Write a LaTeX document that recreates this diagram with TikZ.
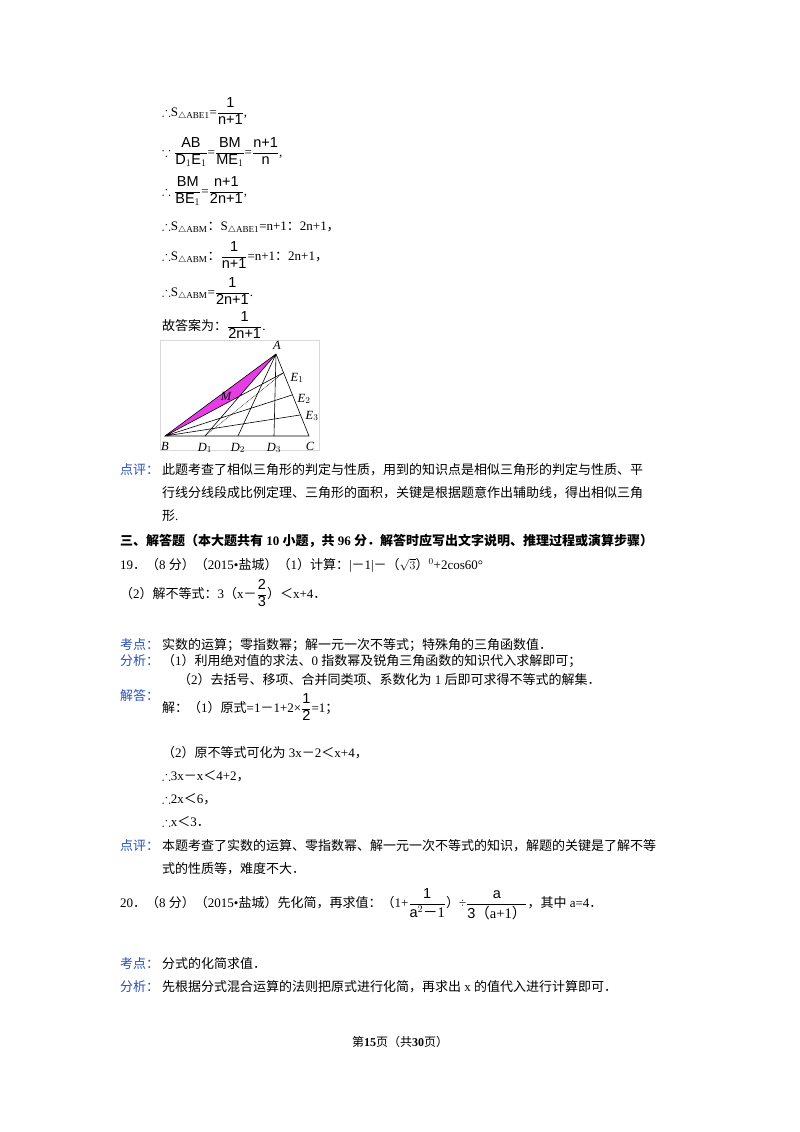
\documentclass[tikz,border=0pt]{standalone}
\usepackage{fontspec}
\usepackage{amsmath,amssymb}
\setmainfont{Liberation Serif}
\newfontfamily\cjkf{Noto Sans CJK SC}
\newfontfamily\latf{Liberation Serif}
\newfontfamily\sanf{Liberation Sans}
\XeTeXinterchartokenstate=1
\newXeTeXintercharclass\cjkclass
\newcount\zc
\zc="3000 \loop\ifnum\zc<"3040 \XeTeXcharclass\zc=\cjkclass \advance\zc1 \repeat
\zc="4E00 \loop\ifnum\zc<"A000 \XeTeXcharclass\zc=\cjkclass \advance\zc1 \repeat
\zc="FF00 \loop\ifnum\zc<"FF60 \XeTeXcharclass\zc=\cjkclass \advance\zc1 \repeat
\XeTeXinterchartoks 0 \cjkclass={\cjkf}
\XeTeXinterchartoks 4095 \cjkclass={\cjkf}
\XeTeXinterchartoks \cjkclass 0={\latf}
\XeTeXinterchartoks \cjkclass 4095={\latf}
\definecolor{lbl}{RGB}{40,80,190}
\definecolor{mag}{RGB}{230,60,230}
\tikzset{t/.style={anchor=base west,inner sep=0pt,font=\fontsize{13}{15}\selectfont},
 lb/.style={t,text=lbl},
 fig/.style={line width=0.6pt},
 pl/.style={font=\fontsize{12.5}{13}\selectfont\itshape,inner sep=0pt}}
\newcommand{\fr}[2]{\dfrac{\text{\fontsize{14.5}{15}\sanf #1}}{\text{\fontsize{14.5}{15}\sanf #2}}}
\begin{document}
\begin{tikzpicture}[x=1pt,y=-1pt]
\useasboundingbox[fill=white] (0,0) rectangle (800,1132);
% derivation
\node[t] (l1) at (162,116) {$\therefore$S$_{\triangle\text{ABE1}}$=$\fr{1}{n+1}$,};
\node[t] (l2) at (162,156) {$\because\fr{AB}{D$_1$E$_1$}$=$\fr{BM}{ME$_1$}$=$\fr{n+1}{n}$,};
\node[t] (l3) at (162,195) {$\therefore\fr{BM}{BE$_1$}$=$\fr{n+1}{2n+1}$,};
\node[t] (l4) at (162,230) {$\therefore$S$_{\triangle\text{ABM}}$：S$_{\triangle\text{ABE1}}$=n+1：2n+1，};
\node[t] (l5) at (162,260) {$\therefore$S$_{\triangle\text{ABM}}$：$\fr{1}{n+1}$=n+1：2n+1，};
\node[t] (l6) at (162,296) {$\therefore$S$_{\triangle\text{ABM}}$=$\fr{1}{2n+1}$.};
\node[t] (l7) at (162,330) {故答案为：$\fr{1}{2n+1}$.};
% figure
\draw[black!15] (160,340) rectangle (319,450);
\coordinate (A) at (276,354);
\coordinate (B) at (165,436);
\coordinate (C) at (309,436);
\coordinate (D1) at (205,436);
\coordinate (D2) at (238,436);
\coordinate (D3) at (274,436);
\coordinate (E1) at (283,373);
\coordinate (E2) at (292,395);
\coordinate (E3) at (300,415);
\coordinate (M) at (intersection of A--D1 and B--E1);
\fill[mag] (A) -- (B) -- (M) -- cycle;
\draw[fig] (A) -- (B) -- (C) -- cycle;
\draw[fig] (A) -- (D1) (A) -- (D2) (A) -- (D3) (B) -- (E1) (B) -- (E2) (B) -- (E3);
\draw[fig,densely dotted] (D1) -- (E1);
\node[pl] (nA) at (277,345) {A};
\node[pl] (nB) at (165,446) {B};
\node[pl] (nC) at (310,446) {C};
\node[pl] (nD1) at (205,448) {D$_1$};
\node[pl] (nD2) at (238,448) {D$_2$};
\node[pl] (nD3) at (274,448) {D$_3$};
\node[pl] (nE1) at (297,378) {E$_1$};
\node[pl] (nE2) at (304,399) {E$_2$};
\node[pl] (nE3) at (312,416) {E$_3$};
\node[pl] (nM) at (226,396) {M};
% 点评
\node[lb] (p1) at (120,474) {点评：};
\node[t] (p1a) at (162,474) {此题考查了相似三角形的判定与性质，用到的知识点是相似三角形的判定与性质、平};
\node[t] (p1b) at (162,497) {行线分线段成比例定理、三角形的面积，关键是根据题意作出辅助线，得出相似三角};
\node[t] (p1c) at (162,520) {形.};
% section 3
\node[t,font=\fontsize{13}{15}\selectfont\bfseries] (h3) at (120,545) {三、解答题（本大题共有 10 小题，共 96 分．解答时应写出文字说明、推理过程或演算步骤）};
\node[t] (q19) at (120,569) {19．（8 分）（2015•盐城）（1）计算：|－1|－（$\sqrt{3}$）$^0$+2cos60°};
\node[t] (q19b) at (120,598) {（2）解不等式：3（x－$\fr{2}{3}$）＜x+4．};
\node[lb] (k1) at (120,649) {考点：};
\node[t] (k1a) at (162,649) {实数的运算；零指数幂；解一元一次不等式；特殊角的三角函数值．};
\node[lb] (f1) at (120,665) {分析：};
\node[t] (f1a) at (162,665) {（1）利用绝对值的求法、0 指数幂及锐角三角函数的知识代入求解即可；};
\node[t] (f1b) at (178,684) {（2）去括号、移项、合并同类项、系数化为 1 后即可求得不等式的解集．};
\node[lb] (j1) at (120,700) {解答：};
\node[t] (j1a) at (162,712) {解：（1）原式=1－1+2×$\fr{1}{2}$=1；};
\node[t] (j1b) at (162,757) {（2）原不等式可化为 3x－2＜x+4，};
\node[t] (j1c) at (162,780) {$\therefore$3x－x＜4+2，};
\node[t] (j1d) at (162,803) {$\therefore$2x＜6，};
\node[t] (j1e) at (162,826) {$\therefore$x＜3．};
\node[lb] (p2) at (120,850) {点评：};
\node[t] (p2a) at (162,850) {本题考查了实数的运算、零指数幂、解一元一次不等式的知识，解题的关键是了解不等};
\node[t] (p2b) at (162,873) {式的性质等，难度不大．};
% 20
\node[t] (q20) at (120,907) {20．（8 分）（2015•盐城）先化简，再求值：（1+$\fr{1}{a$^2$－1}$）÷$\fr{a}{3（a+1）}$，其中 a=4．};
\node[lb] (k2) at (120,968) {考点：};
\node[t] (k2a) at (162,968) {分式的化简求值．};
\node[lb] (f2) at (120,991) {分析：};
\node[t] (f2a) at (162,991) {先根据分式混合运算的法则把原式进行化简，再求出 x 的值代入进行计算即可．};
\node[inner sep=0pt,anchor=base,font=\fontsize{12}{14}\selectfont] (ft) at (400,1046) {第\textbf{15}页（共\textbf{30}页）};
\end{tikzpicture}
\end{document}
